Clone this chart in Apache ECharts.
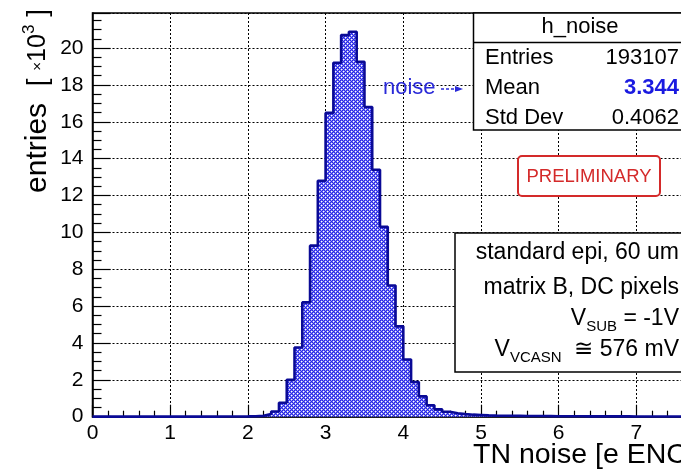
<!DOCTYPE html>
<html><head><meta charset="utf-8">
<script src="https://cdn.jsdelivr.net/npm/echarts@6/dist/echarts.min.js"></script>
<style>html,body{margin:0;padding:0;background:#fff}#c{width:681px;height:472px}</style>
</head><body><div id="c"></div>
<script>
// ---- data (entries per 0.1 bin, in thousands) ----
const xMin = 0, xMax = 8, binWidth = 0.1;
const counts = [
  0.003,0.003,0.003,0.003,0.003,0.003,0.003,0.003,0.003,0.003,
  0.004,0.004,0.004,0.005,0.005,0.006,0.007,0.008,0.010,0.015,
  0.025,0.045,0.15,0.28,0.76,2.0,3.75,6.2,9.28,12.8,
  16.48,19.2,20.7,20.88,19.25,16.8,13.4,10.3,7.12,4.9,
  3.1,1.88,1.1,0.62,0.40,0.27,0.19,0.14,0.11,0.09,
  0.07,0.06,0.055,0.05,0.045,0.04,0.037,0.034,0.031,0.028,
  0.026,0.024,0.022,0.020,0.019,0.018,0.017,0.016,0.015,0.014,
  0.013,0.012,0.012,0.011,0.011,0.010,0.010,0.009,0.009,0.008
];
const statTitle = 'h_noise';
const statNames = ['Entries', 'Mean', 'Std Dev'];
const statValues = ['193107', '3.344', '0.4062'];
const infoLines = ['standard epi, 60 um', 'matrix B, DC pixels'];
const xTitle = 'TN noise [e ENC]';
const legendName = 'noise';

// ---- build ----
const binEdges = counts.map((_, i) => +(xMin + i * binWidth).toFixed(2));
binEdges.push(+(xMin + counts.length * binWidth).toFixed(2));
const stepData = counts.map((v, i) => [binEdges[i], v]);
stepData.push([binEdges[counts.length], counts[counts.length - 1]]);

function makePattern() {
  const c = document.createElement('canvas');
  c.width = 4; c.height = 4;
  const g = c.getContext('2d');
  g.fillStyle = 'rgb(38,38,232)';
  g.fillRect(0, 0, 4, 4);
  g.fillStyle = '#ffffff';
  g.fillRect(1, 1, 1, 1);
  g.fillRect(3, 3, 1, 1);
  g.fillStyle = 'rgba(255,255,255,0.55)';
  g.fillRect(2, 1, 1, 1); g.fillRect(1, 2, 1, 1);
  g.fillRect(0, 3, 1, 1); g.fillRect(3, 0, 1, 1);
  g.fillStyle = 'rgba(255,255,255,0.3)';
  g.fillRect(0, 1, 1, 1); g.fillRect(1, 0, 1, 1);
  g.fillRect(2, 3, 1, 1); g.fillRect(3, 2, 1, 1);
  return c;
}

const FONT = '"Liberation Sans", Arial, Helvetica, sans-serif';
const chart = echarts.init(document.getElementById('c'), null, {renderer: 'canvas'});

const graphics = [];
// stats box
graphics.push({type: 'rect', z: 100, shape: {x: 473.5, y: 13, width: 260, height: 117},
  style: {fill: '#fff', stroke: '#000', lineWidth: 1.5}});
graphics.push({type: 'line', z: 101, shape: {x1: 473.5, y1: 42.5, x2: 720, y2: 42.5},
  style: {stroke: '#000', lineWidth: 1.5}});
graphics.push({type: 'text', z: 102, x: 580, y: 27,
  style: {text: statTitle, font: '22px ' + FONT, fill: '#000', align: 'center', verticalAlign: 'middle'}});
const rowY = [58, 88, 118];
statNames.forEach((n, i) => {
  graphics.push({type: 'text', z: 102, x: 485, y: rowY[i],
    style: {text: n, font: '22px ' + FONT, fill: '#000', align: 'left', verticalAlign: 'middle'}});
  graphics.push({type: 'text', z: 102, x: 679, y: rowY[i],
    style: {text: statValues[i], font: (i === 1 ? 'bold ' : '') + '22px ' + FONT,
      fill: i === 1 ? '#1a1ae0' : '#000', align: 'right', verticalAlign: 'middle'}});
});
// legend-like label
graphics.push({type: 'text', z: 102, x: 383, y: 88,
  style: {text: legendName, font: '22px ' + FONT, fill: '#2a2ad8', align: 'left', verticalAlign: 'middle'}});
graphics.push({type: 'line', z: 102, shape: {x1: 441, y1: 89, x2: 457, y2: 89},
  style: {stroke: '#2a2ad8', lineWidth: 1.5, lineDash: [3, 2]}});
graphics.push({type: 'polygon', z: 102, shape: {points: [[455, 86], [463, 89], [455, 92]]},
  style: {fill: '#2a2ad8'}});
// preliminary
graphics.push({type: 'rect', z: 100, shape: {x: 518, y: 156, width: 142, height: 40, r: 4},
  style: {fill: '#fff', stroke: '#d42a2a', lineWidth: 2}});
graphics.push({type: 'text', z: 102, x: 589, y: 177,
  style: {text: 'PRELIMINARY', font: '18.5px ' + FONT, fill: '#d42a2a', align: 'center', verticalAlign: 'middle'}});
// info box
graphics.push({type: 'rect', z: 100, shape: {x: 455, y: 233, width: 260, height: 139},
  style: {fill: '#fff', stroke: '#000', lineWidth: 1.5}});
const infoY = [253, 288, 319, 350];
infoLines.forEach((t, i) => {
  graphics.push({type: 'text', z: 102, x: 679, y: infoY[i],
    style: {text: t, font: '23px ' + FONT, fill: '#000', align: 'right', verticalAlign: 'middle'}});
});
const richSub = {
  b: {fontSize: 23, fontFamily: FONT, color: '#000', lineHeight: 30, verticalAlign: 'middle'},
  s: {fontSize: 15, fontFamily: FONT, color: '#333', lineHeight: 15, verticalAlign: 'bottom'}
};
graphics.push({type: 'text', z: 102, x: 679, y: infoY[2],
  style: {text: '{b|V}{s|SUB}{b| = -1V}', rich: richSub, align: 'right', verticalAlign: 'middle'}});
graphics.push({type: 'text', z: 102, x: 679, y: infoY[3],
  style: {text: '{b|V}{s|VCASN}{b|  \u2245 576 mV}', rich: richSub, align: 'right', verticalAlign: 'middle'}});
// axis titles
graphics.push({type: 'text', z: 102, x: 473, y: 455,
  style: {text: xTitle, font: '28.5px ' + FONT, fill: '#000', align: 'left', verticalAlign: 'middle'}});
graphics.push({type: 'text', z: 102, x: 38, y: 101, rotation: Math.PI / 2,
  style: {text: '{e|entries  }{k|[ }{m|\u00d7}{n|10}{s|3}{k| ]}', align: 'center', verticalAlign: 'middle',
    rich: {
      e: {fontSize: 30, fontFamily: FONT, color: '#000', lineHeight: 34, verticalAlign: 'middle'},
      k: {fontSize: 28, fontFamily: FONT, color: '#000', lineHeight: 34, verticalAlign: 'middle'},
      m: {fontSize: 15, fontFamily: FONT, color: '#000', lineHeight: 34, verticalAlign: 'middle'},
      n: {fontSize: 25, fontFamily: FONT, color: '#000', lineHeight: 34, verticalAlign: 'middle'},
      s: {fontSize: 17, fontFamily: FONT, color: '#000', lineHeight: 17, verticalAlign: 'top'}
    }}});

chart.setOption({
  animation: false,
  backgroundColor: '#fff',
  grid: {left: 92.5, top: 13, width: 621.6, height: 403.7, show: true, borderColor: '#000', borderWidth: 1.5,
    backgroundColor: 'transparent', containLabel: false, outerBoundsMode: 'none'},
  xAxis: {
    type: 'value', min: xMin, max: xMax, interval: 1,
    axisLine: {show: true, onZero: false, lineStyle: {color: '#000', width: 1.5}},
    axisTick: {show: true, inside: true, length: 12, lineStyle: {color: '#000', width: 1.2}},
    minorTick: {show: true, splitNumber: 5, length: 6, lineStyle: {color: '#000', width: 1.2}},
    splitLine: {show: true, lineStyle: {color: '#000', width: 1, type: [2, 2]}},
    axisLabel: {color: '#000', fontSize: 21, fontFamily: FONT, margin: 6}
  },
  yAxis: {
    type: 'value', min: 0, max: 21.9, interval: 2,
    axisLine: {show: true, onZero: false, lineStyle: {color: '#000', width: 1.5}},
    axisTick: {show: true, inside: true, length: 18, lineStyle: {color: '#000', width: 1.2}},
    minorTick: {show: true, splitNumber: 4, length: 9, lineStyle: {color: '#000', width: 1.2}},
    splitLine: {show: true, lineStyle: {color: '#000', width: 1, type: [2, 2]}},
    axisLabel: {color: '#000', fontSize: 21, fontFamily: FONT, margin: 9, showMaxLabel: false}
  },
  series: [{
    type: 'line', name: legendName, step: 'end', data: stepData, symbol: 'none', clip: false,
    lineStyle: {color: 'rgb(10,10,150)', width: 2.6},
    areaStyle: {color: {image: makePattern(), repeat: 'repeat'}, opacity: 1},
    z: 5
  }],
  graphic: graphics
});
</script></body></html>
